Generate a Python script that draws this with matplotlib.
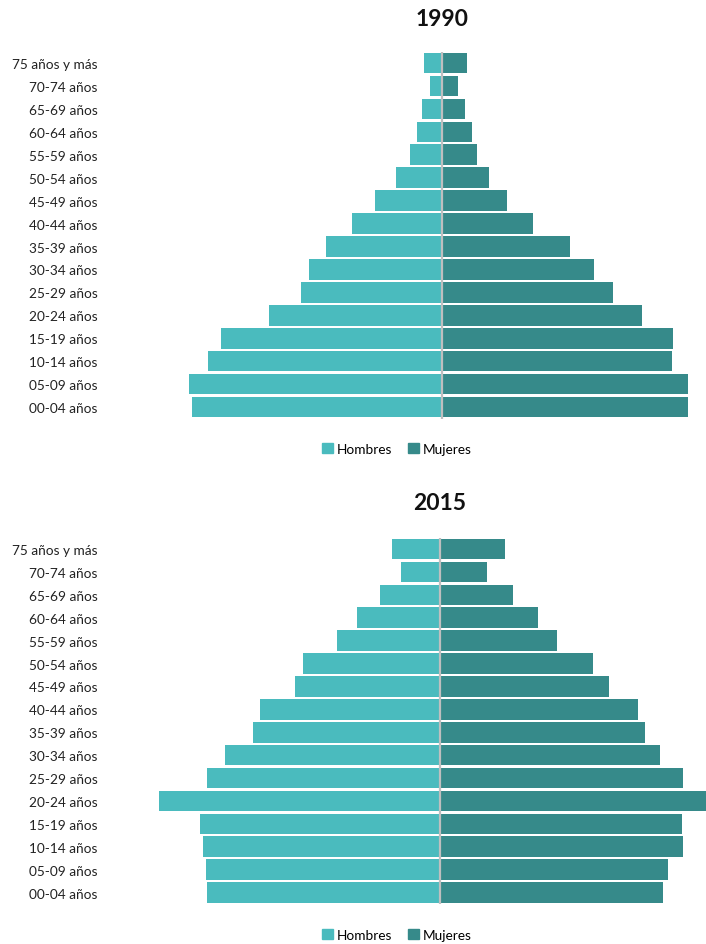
import matplotlib
matplotlib.use("Agg")
import matplotlib.pyplot as plt
from matplotlib.patches import Patch

plt.rcParams['font.family'] = ['Lato', 'DejaVu Sans']

# Age groups, bottom to top
categorias = ["00-04 años", "05-09 años", "10-14 años", "15-19 años", "20-24 años",
              "25-29 años", "30-34 años", "35-39 años", "40-44 años", "45-49 años",
              "50-54 años", "55-59 años", "60-64 años", "65-69 años", "70-74 años",
              "75 años y más"]

# 1990 (% of population)
hombres_1990 = [6.65, 6.71, 6.21, 5.87, 4.59, 3.75, 3.53, 3.07, 2.40, 1.77,
                1.22, 0.84, 0.67, 0.52, 0.33, 0.49]
mujeres_1990 = [6.52, 6.54, 6.11, 6.13, 5.31, 4.53, 4.03, 3.39, 2.42, 1.73,
                1.24, 0.92, 0.79, 0.62, 0.43, 0.66]

# 2015 (% of population)
hombres_2015 = [4.27, 4.28, 4.33, 4.40, 5.15, 4.26, 3.93, 3.42, 3.30, 2.66,
                2.51, 1.89, 1.51, 1.09, 0.72, 0.87]
mujeres_2015 = [4.08, 4.17, 4.45, 4.43, 5.10, 4.44, 4.02, 3.76, 3.63, 3.10,
                2.80, 2.14, 1.80, 1.33, 0.86, 1.19]

C_H = "#4ABBBE"
C_M = "#368A8A"

W, H = 706, 945
fig = plt.figure(figsize=(W / 100, H / 100), dpi=100)


def pyramid(top_px, bottom_px, center_px, unit, hombres, mujeres, title, title_y, legend_y):
    left_px = 110
    ax = fig.add_axes([left_px / W, 1 - bottom_px / H, (W - left_px) / W, (bottom_px - top_px) / H])
    y = list(range(len(categorias)))
    ax.barh(y, [-v for v in hombres], height=0.9, color=C_H, label="Hombres")
    ax.barh(y, mujeres, height=0.9, color=C_M, label="Mujeres")
    ax.set_xlim(-(center_px - left_px) * unit, (W - center_px) * unit)
    ax.set_ylim(-0.5, len(categorias) - 0.5)
    ax.axvline(0, color="#BFBFBF", lw=1.6, zorder=3)
    for s in ax.spines.values():
        s.set_visible(False)
    ax.set_xticks([])
    ax.set_yticks(y)
    ax.set_yticklabels(categorias, fontsize=9.8, color="#222222")
    ax.tick_params(axis='y', length=0, pad=9)
    fig.text(center_px / W, 1 - title_y / H, title, ha="center", va="center",
             fontsize=16.5, fontweight="bold", color="#111111")
    handles = [Patch(color=C_H, label="Hombres"), Patch(color=C_M, label="Mujeres")]
    fig.legend(handles=handles, loc="center", bbox_to_anchor=(397 / W, 1 - legend_y / H),
               ncol=2, frameon=False, fontsize=9.8, handlelength=0.75, handleheight=0.75,
               handletextpad=0.3, columnspacing=1.2)
    return ax


pyramid(52.6, 419.5, 442, 0.02655, hombres_1990, mujeres_1990, "1990", 19, 450)
pyramid(538.6, 905, 440, 0.0183, hombres_2015, mujeres_2015, "2015", 504, 936)

fig.savefig("out.png", dpi=100)
